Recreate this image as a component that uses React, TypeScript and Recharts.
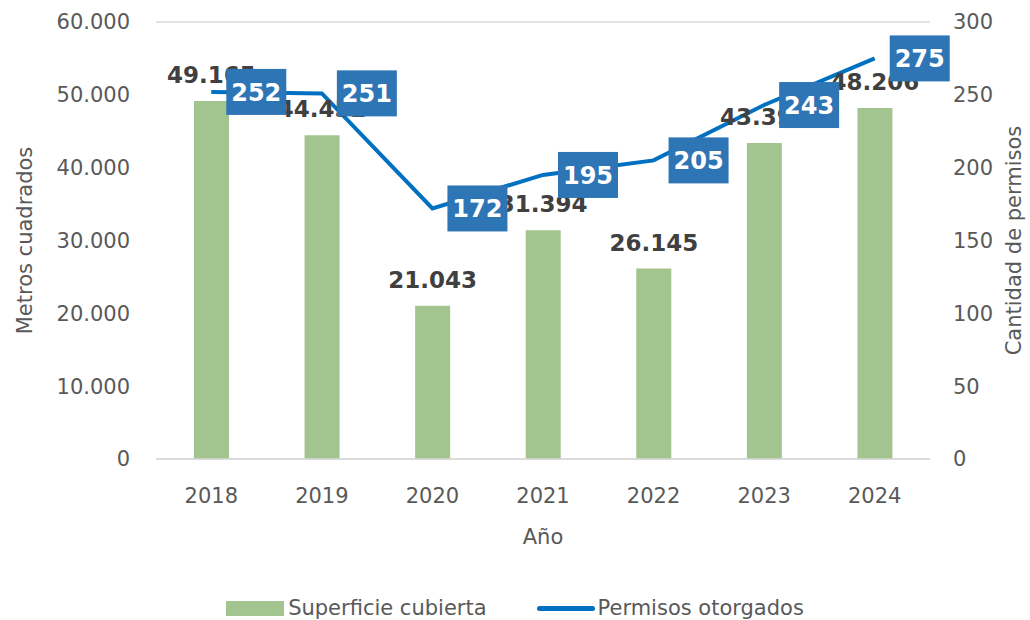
import { ComposedChart, Bar, Line, XAxis, YAxis, CartesianGrid, Legend, LabelList } from 'recharts'

const years = ['2018', '2019', '2020', '2021', '2022', '2023', '2024']
const superficie = [49165, 44452, 21043, 31394, 26145, 43394, 48206]
const permisos = [252, 251, 172, 195, 205, 243, 275]
const leftTicks = [0, 10000, 20000, 30000, 40000, 50000, 60000]
const rightTicks = [0, 50, 100, 150, 200, 250, 300]

const data = years.map((y, i) => ({ year: y, superficie: superficie[i], permisos: permisos[i] }))

const FONT = '"DejaVu Sans", sans-serif'
const GREEN = '#A2C48F'
const BLUE = '#0070C0'
const BOX = '#2E75B6'
const TXT = '#595959'

const fmt = (v: number) => v.toLocaleString('de-DE')

// blue box label to the right of each line point
function PermisoLabel(props: any) {
  const { x, y, value } = props
  return (
    <g>
      <rect x={x + 15} y={y - 23} width={60} height={46} fill={BOX} />
      <text x={x + 45} y={y + 9} textAnchor="middle" fill="#fff" fontSize={24} fontWeight="bold" fontFamily={FONT}>
        {value}
      </text>
    </g>
  )
}

function LegendContent() {
  return (
    <div style={{ display: 'flex', justifyContent: 'center', alignItems: 'center', height: 24, fontFamily: FONT, fontSize: 21, color: TXT }}>
      <span style={{ display: 'inline-block', width: 58, height: 15, background: GREEN, marginRight: 4 }} />
      <span style={{ marginRight: 50 }}>Superficie cubierta</span>
      <span style={{ display: 'inline-block', width: 58, height: 5, background: BLUE, borderRadius: 3, marginRight: 3 }} />
      <span>Permisos otorgados</span>
    </div>
  )
}

export default function App() {
  return (
    <div style={{ position: 'absolute', left: 0, top: 0, background: '#fff' }}>
      <ComposedChart width={1030} height={620} data={data} margin={{ top: 22, right: 0, bottom: 0, left: 0 }}>
        <CartesianGrid vertical={false} stroke="#D9D9D9" strokeWidth={1.5} />
        <XAxis
          dataKey="year"
          height={137}
          axisLine={{ stroke: '#D9D9D9', strokeWidth: 1.5 }}
          tickLine={false}
          tickMargin={23}
          tick={{ fill: TXT, fontSize: 21, fontFamily: FONT }}
          label={{ value: 'Año', position: 'insideTop', offset: 70, fill: TXT, fontSize: 21, fontFamily: FONT }}
        />
        <YAxis
          yAxisId="left"
          width={156}
          domain={[0, 60000]}
          ticks={leftTicks}
          tickFormatter={fmt}
          axisLine={false}
          tickLine={false}
          tickMargin={20}
          tick={{ fill: TXT, fontSize: 21, fontFamily: FONT }}
          label={{ value: 'Metros cuadrados', angle: -90, position: 'insideLeft', offset: 25, style: { textAnchor: 'middle' }, fill: TXT, fontSize: 21, fontFamily: FONT }}
        />
        <YAxis
          yAxisId="right"
          orientation="right"
          width={100}
          domain={[0, 300]}
          ticks={rightTicks}
          axisLine={false}
          tickLine={false}
          tickMargin={17}
          tick={{ fill: TXT, fontSize: 21, fontFamily: FONT }}
          label={{ value: 'Cantidad de permisos', angle: -90, position: 'insideRight', offset: 16, style: { textAnchor: 'middle' }, fill: TXT, fontSize: 21, fontFamily: FONT }}
        />
        <Legend verticalAlign="bottom" content={<LegendContent />} />
        <Bar yAxisId="left" dataKey="superficie" fill={GREEN} barSize={35} isAnimationActive={false}>
          <LabelList dataKey="superficie" position="top" offset={18} formatter={(v: any) => fmt(Number(v))} fill="#404040" fontSize={23} fontWeight="bold" fontFamily={FONT} />
        </Bar>
        <Line yAxisId="right" dataKey="permisos" stroke={BLUE} strokeWidth={4} dot={false} type="linear" isAnimationActive={false}>
          <LabelList dataKey="permisos" content={<PermisoLabel />} />
        </Line>
      </ComposedChart>
    </div>
  )
}
